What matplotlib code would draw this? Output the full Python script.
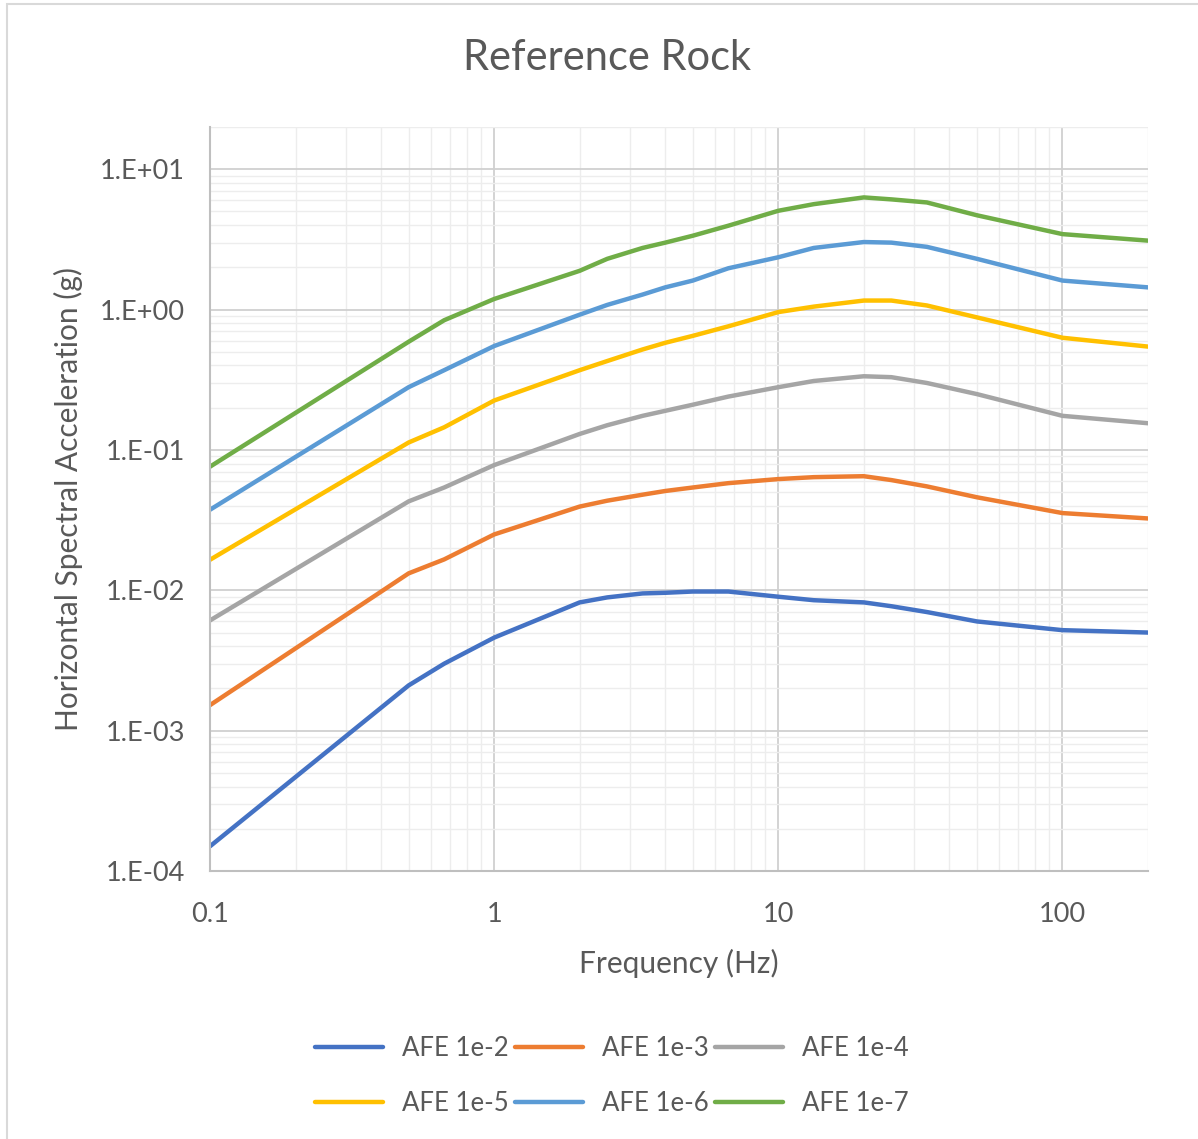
import matplotlib
matplotlib.use("Agg")
import matplotlib.pyplot as plt
from matplotlib.ticker import LogLocator, FixedLocator, NullFormatter
from matplotlib.patches import Rectangle

plt.rcParams['font.family'] = ['Lato', 'DejaVu Sans']

# Frequencies (Hz)
freq = [0.1, 0.5, 0.667, 1, 2, 2.5, 3.33, 4, 5, 6.67, 10, 13.33, 20, 25, 33.33, 50, 100, 200]

# Horizontal spectral acceleration (g) per annual frequency of exceedance
afe_1e2 = [1.5e-4, 2.1e-3, 3.0e-3, 4.6e-3, 8.2e-3, 8.9e-3, 9.5e-3, 9.6e-3, 9.8e-3, 9.8e-3,
           9.0e-3, 8.5e-3, 8.2e-3, 7.7e-3, 7.0e-3, 6.0e-3, 5.2e-3, 5.0e-3]
afe_1e3 = [1.52e-3, 1.32e-2, 1.66e-2, 2.5e-2, 3.95e-2, 4.35e-2, 4.8e-2, 5.1e-2, 5.4e-2, 5.8e-2,
           6.2e-2, 6.4e-2, 6.5e-2, 6.1e-2, 5.5e-2, 4.6e-2, 3.55e-2, 3.25e-2]
afe_1e4 = [6.1e-3, 4.3e-2, 5.4e-2, 7.8e-2, 0.13, 0.15, 0.175, 0.19, 0.21, 0.24,
           0.28, 0.31, 0.335, 0.33, 0.30, 0.25, 0.175, 0.155]
afe_1e5 = [0.0165, 0.113, 0.145, 0.225, 0.37, 0.43, 0.52, 0.58, 0.65, 0.76,
           0.96, 1.05, 1.16, 1.16, 1.07, 0.88, 0.63, 0.545]
afe_1e6 = [0.0375, 0.28, 0.37, 0.55, 0.92, 1.08, 1.28, 1.44, 1.61, 1.97,
           2.36, 2.75, 3.03, 3.0, 2.8, 2.3, 1.61, 1.44]
afe_1e7 = [0.076, 0.59, 0.84, 1.19, 1.89, 2.3, 2.75, 3.0, 3.36, 3.96,
           5.06, 5.64, 6.3, 6.1, 5.8, 4.7, 3.45, 3.1]

series_labels = ['AFE 1e-2', 'AFE 1e-3', 'AFE 1e-4', 'AFE 1e-5', 'AFE 1e-6', 'AFE 1e-7']
series_values = [afe_1e2, afe_1e3, afe_1e4, afe_1e5, afe_1e6, afe_1e7]
colors = ['#4472C4', '#ED7D31', '#A5A5A5', '#FFC000', '#5B9BD5', '#70AD47']

y_ticks = [1e-4, 1e-3, 1e-2, 1e-1, 1e0, 1e1]
y_tick_labels = ['1.E-04', '1.E-03', '1.E-02', '1.E-01', '1.E+00', '1.E+01']
x_ticks = [0.1, 1, 10, 100]
x_tick_labels = ['0.1', '1', '10', '100']

fig = plt.figure(figsize=(11.98, 11.39), dpi=100)
fig.patch.set_facecolor('white')
# chart-area border
fig.add_artist(Rectangle((7 / 1198, -0.02), 1.05, 1.02 - 4 / 1139,
                         transform=fig.transFigure, fill=False,
                         edgecolor='#D9D9D9', linewidth=1.5))

ax = fig.add_axes([210 / 1198, 268 / 1139, (1148 - 210) / 1198, (871 - 127) / 1139])
ax.set_xscale('log')
ax.set_yscale('log')
ax.set_xlim(0.1, 200)
ax.set_ylim(1e-4, 20)

handles = []
for lab, vals, col in zip(series_labels, series_values, colors):
    h, = ax.plot(freq, vals, color=col, linewidth=3.2, label=lab,
                 solid_capstyle='round', solid_joinstyle='round')
    handles.append(h)

ax.xaxis.set_major_locator(FixedLocator(x_ticks))
ax.set_xticklabels(x_tick_labels)
ax.yaxis.set_major_locator(FixedLocator(y_ticks))
ax.set_yticklabels(y_tick_labels)
ax.xaxis.set_minor_locator(LogLocator(base=10, subs=range(2, 10), numticks=20))
ax.yaxis.set_minor_locator(LogLocator(base=10, subs=range(2, 10), numticks=20))
ax.xaxis.set_minor_formatter(NullFormatter())
ax.yaxis.set_minor_formatter(NullFormatter())

ax.grid(which='major', color='#D0D0D0', linewidth=1.3)
ax.grid(which='minor', color='#EDEDED', linewidth=1.0)
ax.set_axisbelow(True)

ax.tick_params(which='both', length=0, labelsize=19.5, labelcolor='#595959')
ax.tick_params(axis='x', pad=22)
ax.tick_params(axis='y', pad=18)

for side in ['top', 'right']:
    ax.spines[side].set_visible(False)
for side in ['left', 'bottom']:
    ax.spines[side].set_color('#BFBFBF')
    ax.spines[side].set_linewidth(1.5)

ax.set_xlabel('Frequency (Hz)', fontsize=21.5, color='#595959', labelpad=16)
ax.set_ylabel('Horizontal Spectral Acceleration (g)', fontsize=21.5, color='#595959', labelpad=12)

fig.text(607 / 1198, 1 - 58 / 1139, 'Reference Rock', ha='center', va='center',
         fontsize=30, color='#595959')

# legend filled row by row: 1e-2, 1e-3, 1e-4 / 1e-5, 1e-6, 1e-7
order = [0, 3, 1, 4, 2, 5]
leg = fig.legend([handles[i] for i in order], [series_labels[i] for i in order],
                 loc='center', bbox_to_anchor=(612 / 1198, 1 - 1076 / 1139), ncol=3,
                 frameon=False, fontsize=18.5, handlelength=2.65, handletextpad=0.74,
                 columnspacing=0.23, labelspacing=1.2)
for t in leg.get_texts():
    t.set_color('#595959')

fig.savefig('out.png', dpi=100, facecolor='white')
